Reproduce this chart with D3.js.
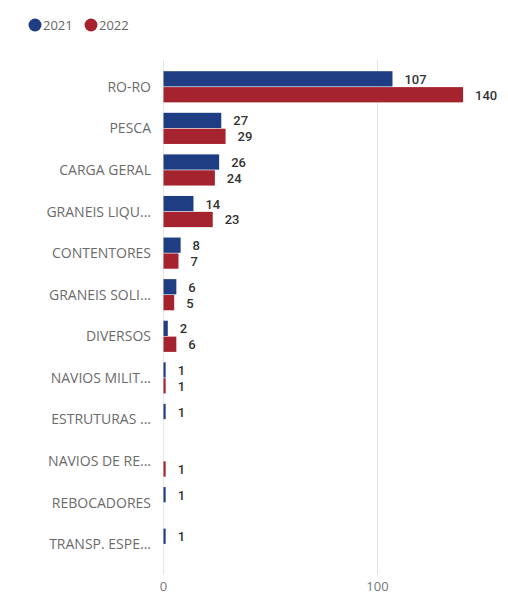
<!DOCTYPE html>
<html>
<head>
<meta charset="utf-8">
<script src="https://cdn.jsdelivr.net/npm/d3@7"></script>
<style>
  body { margin: 0; background: #fff; }
  text { font-family: "Open Sans", "Segoe UI", sans-serif; }
</style>
</head>
<body>
<div id="chart"></div>
<script>
const categories = ["RO-RO", "PESCA", "CARGA GERAL", "GRANEIS LIQU...", "CONTENTORES", "GRANEIS SOLI...",
    "DIVERSOS", "NAVIOS MILIT...", "ESTRUTURAS ...", "NAVIOS DE RE...", "REBOCADORES", "TRANSP. ESPE..."];
const years = ["2021", "2022"];
const values2021 = [107, 27, 26, 14, 8, 6, 2, 1, 1, null, 1, 1];
const values2022 = [140, 29, 24, 23, 7, 5, 6, 1, null, 1, null, null];
const xTicks = [0, 100];
const colors = ["#1f3d82", "#a4232f"];

let width = 508, height = 595;
let margin = {top: 66, left: 163.5, right: 40, bottom: 30};

let svg = d3.select("#chart").append("svg")
    .attr("width", width)
    .attr("height", height);

let x = d3.scaleLinear().domain([0, 100]).range([margin.left, 377.5]);

let y = d3.scaleBand()
    .domain(categories)
    .range([margin.top, 565])
    .paddingInner(0.22)
    .paddingOuter(0.11);

let ySub = d3.scaleBand().domain(years).range([0, y.bandwidth()]).padding(0.04);

// gridlines
svg.append("g").selectAll("line").data(xTicks).enter().append("line")
    .attr("x1", d => x(d)).attr("x2", d => x(d))
    .attr("y1", 60).attr("y2", 575)
    .attr("stroke", "#e6e6e6").attr("stroke-width", 1);

svg.append("g").selectAll("text").data(xTicks).enter().append("text")
    .attr("x", d => x(d)).attr("y", 591)
    .style("text-anchor", "middle")
    .style("font-size", "13px")
    .attr("fill", "#777")
    .text(d => d);

// category labels
svg.append("g").selectAll("text").data(categories).enter().append("text")
    .attr("x", 151)
    .attr("y", d => y(d) + y.bandwidth() / 2 + 5)
    .style("text-anchor", "end")
    .style("font-size", "14px")
    .attr("fill", "#6b6b6b")
    .text(d => d);

let rows = [];
categories.forEach((c, i) => {
    rows.push({cat: c, year: "2021", v: values2021[i]});
    rows.push({cat: c, year: "2022", v: values2022[i]});
});
rows = rows.filter(d => d.v != null);

let color = d3.scaleOrdinal().domain(years).range(colors);

svg.append("g").selectAll("rect").data(rows).enter().append("rect")
    .attr("x", x(0))
    .attr("y", d => y(d.cat) + ySub(d.year))
    .attr("width", d => Math.max(x(d.v) - x(0), 2))
    .attr("height", ySub.bandwidth())
    .attr("fill", d => color(d.year));

svg.append("g").selectAll("text").data(rows).enter().append("text")
    .attr("x", d => Math.max(x(d.v), x(0) + 2) + 12)
    .attr("y", d => y(d.cat) + ySub(d.year) + ySub.bandwidth() / 2 + 5)
    .style("font-family", "Roboto, sans-serif")
    .style("font-size", "13px")
    .attr("font-weight", 500)
    .attr("fill", "#333")
    .text(d => d.v);

// legend
let legend = svg.append("g");
let legendX = [35, 91];
years.forEach((yr, i) => {
    legend.append("circle")
        .attr("cx", legendX[i]).attr("cy", 25).attr("r", 6.5)
        .attr("fill", colors[i]);
    legend.append("text")
        .attr("x", legendX[i] + 8).attr("y", 30)
        .style("font-size", "13px")
        .attr("fill", "#666")
        .text(yr);
});
</script>
</body>
</html>
